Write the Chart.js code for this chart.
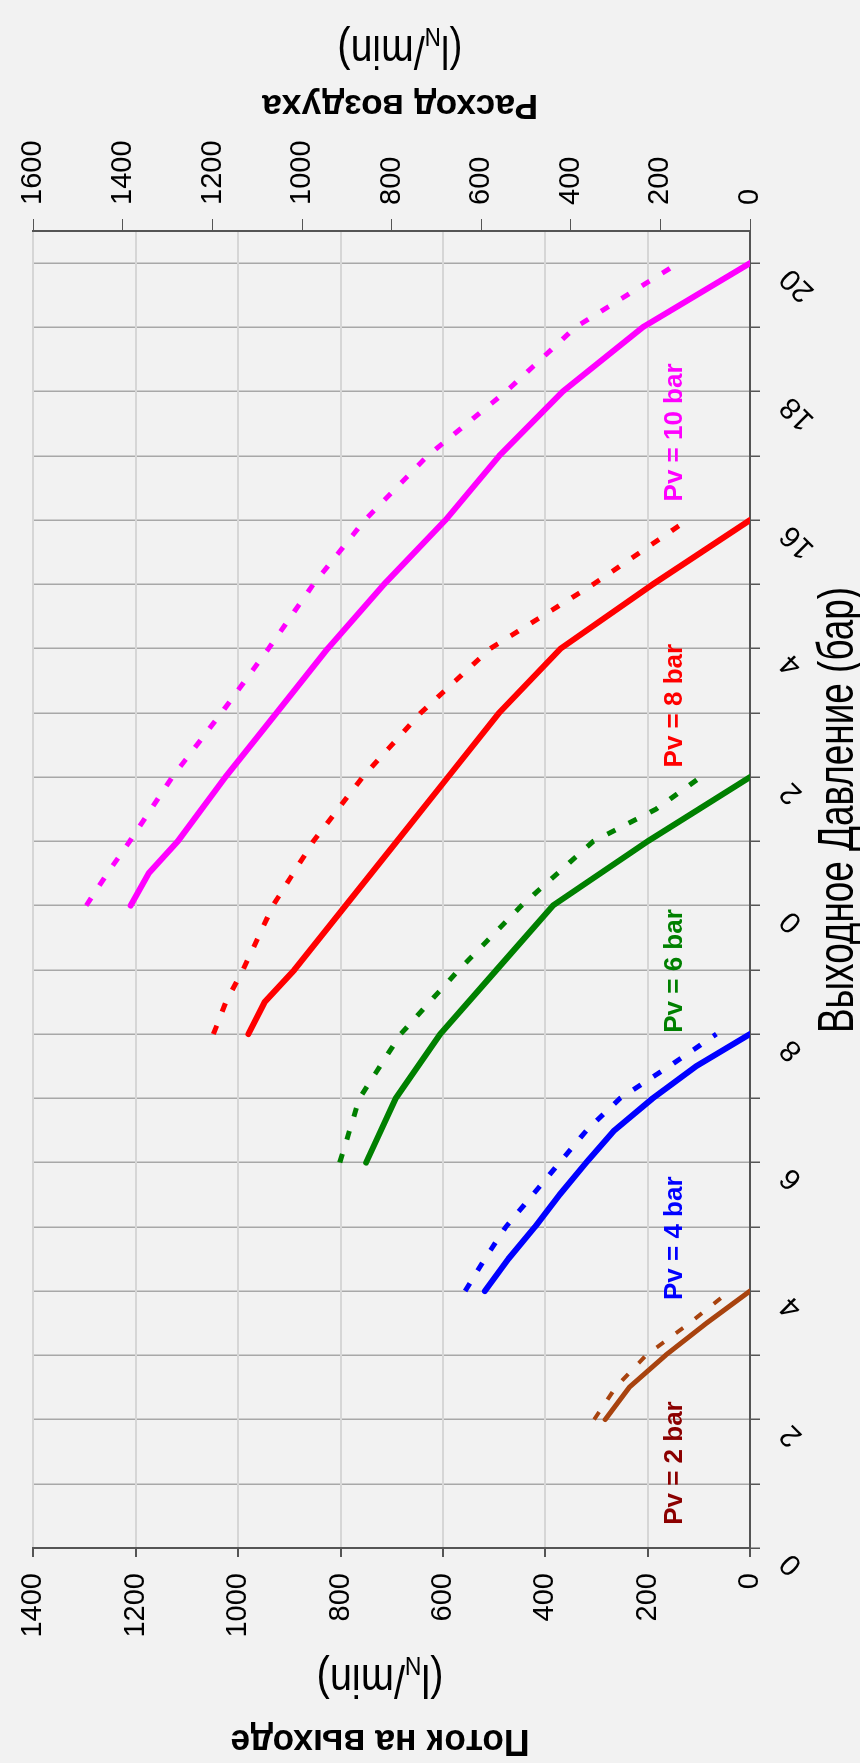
<!DOCTYPE html>
<html lang="ru">
<head>
<meta charset="UTF-8">
<title>Booster flow chart</title>
<script src="https://cdn.jsdelivr.net/npm/chart.js@4.4.1/dist/chart.umd.min.js"></script>
<style>
  html, body { margin: 0; padding: 0; background: #f2f2f2; overflow: hidden; }
  /* chart is drawn landscape, then turned a quarter turn to the left */
  #wrap { position: absolute; left: 0; top: 0; width: 1763px; height: 860px;
          transform-origin: 0 0; transform: translate(0, 1763px) rotate(-90deg); }
</style>
</head>
<body>
<div id="wrap"><canvas id="chart" width="1763" height="860"></canvas></div>
<script>
// x tick labels every 2 bar (10/12/14 show only the last digit in the original)
const xTickLabels = ['0', '2', '4', '6', '8', '0', '2', '4', '16', '18', '20'];

// outlet pressure (bar), outlet flow (left axis) and air consumption (right axis), ln/min
const pv2Bar  = [2, 2.5, 3, 3.5, 4];
const pv2Flow = [283, 236, 165, 85, 0];
const pv2Air  = [348, 300, 232, 135, 45];

const pv4Bar  = [4, 4.5, 5, 5.5, 6, 6.5, 7, 7.5, 8];
const pv4Flow = [518, 472, 420, 372, 320, 265, 190, 105, 0];
const pv4Air  = [636, 592, 545, 485, 425, 365, 290, 180, 75];

const pv6Bar  = [6, 7, 8, 9, 10, 11, 11.5, 12];
const pv6Flow = [750, 692, 605, 495, 385, 200, 100, 0];
const pv6Air  = [916, 872, 780, 650, 510, 350, 210, 110];

const pv8Bar  = [8, 8.5, 9, 10, 11, 12, 13, 14, 15, 16];
const pv8Flow = [980, 948, 890, 790, 690, 590, 490, 370, 190, 0];
const pv8Air  = [1198, 1170, 1132, 1065, 975, 865, 735, 580, 350, 140];

const pv10Bar  = [10, 10.5, 11, 12, 13, 14, 15, 16, 17, 18, 19, 20];
const pv10Flow = [1210, 1175, 1118, 1025, 925, 825, 715, 595, 490, 366, 210, 0];
const pv10Air  = [1482, 1435, 1385, 1290, 1180, 1075, 975, 860, 720, 545, 390, 160];

const seriesNames = ['Pv = 2 bar', 'Pv = 4 bar', 'Pv = 6 bar', 'Pv = 8 bar', 'Pv = 10 bar'];
// where each curve label starts (bar) and its height (ln/min, left axis)
const labelStart = [0.36, 3.86, 8.02, 12.15, 16.29];
const labelFlow = 147;

const series = [
  { bar: pv2Bar,  flow: pv2Flow,  air: pv2Air,  color: '#a8430f', text: '#8b0000', w: 5 },
  { bar: pv4Bar,  flow: pv4Flow,  air: pv4Air,  color: '#0000ff', text: '#0000ff', w: 6 },
  { bar: pv6Bar,  flow: pv6Flow,  air: pv6Air,  color: '#008000', text: '#008000', w: 6 },
  { bar: pv8Bar,  flow: pv8Flow,  air: pv8Air,  color: '#ff0000', text: '#ff0000', w: 6 },
  { bar: pv10Bar, flow: pv10Flow, air: pv10Air, color: '#ff00ff', text: '#ff00ff', w: 6 }
];

const FONT = '"Liberation Sans", Arial, sans-serif';

var datasets = [];
series.forEach(function (s) {
  datasets.push({
    data: s.bar.map(function (b, i) { return { x: b, y: s.flow[i] }; }),
    yAxisID: 'y', borderColor: s.color, borderWidth: s.w,
    pointRadius: 0, tension: 0, borderJoinStyle: 'round', borderCapStyle: 'round'
  });
  datasets.push({
    data: s.bar.map(function (b, i) { return { x: b, y: s.air[i] }; }),
    yAxisID: 'y1', borderColor: s.color, borderWidth: s.w - 1,
    borderDash: [9, 15], pointRadius: 0, tension: 0, borderCapStyle: 'butt'
  });
});

// draws text centred on (x, y) baseline, squeezed to the given width
function fitText(c, parts, x, y, angle, width) {
  var total = 0;
  parts.forEach(function (p) { c.font = p.font; p.w = c.measureText(p.t).width; total += p.w; });
  c.save();
  c.translate(x, y);
  c.rotate(angle);
  c.scale(width / total, 1);
  c.fillStyle = '#000';
  c.textAlign = 'left';
  c.textBaseline = 'alphabetic';
  var px = -total / 2;
  parts.forEach(function (p) { c.font = p.font; c.fillText(p.t, px, p.dy || 0); px += p.w; });
  c.restore();
}

function unitParts() {
  return [
    { t: '(l', font: '46px ' + FONT },
    { t: 'N', font: '26px ' + FONT, dy: 8 },
    { t: '/min)', font: '46px ' + FONT }
  ];
}

const annotations = {
  id: 'annotations',
  afterDatasetsDraw: function (chart) {
    var c = chart.ctx, xs = chart.scales.x, ys = chart.scales.y;
    c.save();
    c.font = 'bold 26px ' + FONT;
    c.textAlign = 'left';
    c.textBaseline = 'middle';
    series.forEach(function (s, i) {
      c.fillStyle = s.text;
      c.fillText(seriesNames[i], xs.getPixelForValue(labelStart[i]), ys.getPixelForValue(labelFlow));
    });
    c.restore();

    // axis titles
    fitText(c, [{ t: 'Выходное Давление (бар)', font: '50px ' + FONT }], 953, 853, 0, 446);
    fitText(c, [{ t: 'Поток на выходе', font: 'bold 37px ' + FONT }], 33, 380, -Math.PI / 2, 299);
    fitText(c, unitParts(), 98, 380, -Math.PI / 2, 127);
    fitText(c, [{ t: 'Расход воздуха', font: 'bold 35px ' + FONT }], 1668, 400, -Math.PI / 2, 276);
    fitText(c, unitParts(), 1727, 400, -Math.PI / 2, 125);
  }
};

function plain(v) { return String(v); }

var chart = new Chart(document.getElementById('chart'), {
  type: 'line',
  data: { datasets: datasets },
  options: {
    responsive: false,
    animation: false,
    events: [],
    layout: { padding: { top: 24, left: 0, right: 0, bottom: 0 } },
    plugins: { legend: { display: false }, tooltip: { enabled: false } },
    scales: {
      x: {
        type: 'linear', position: 'bottom', min: 0, max: 20.5,
        afterFit: function (s) { s.height = 110; },
        ticks: {
          stepSize: 1, autoSkip: false, includeBounds: false,
          minRotation: 45, maxRotation: 45, padding: 13, labelOffset: -10,
          color: '#000', font: { family: FONT, size: 30 },
          callback: function (v) { return v % 2 === 0 ? xTickLabels[v / 2] : ''; }
        },
        grid: { color: '#a8a8a8', lineWidth: 1.5, tickColor: '#555', tickLength: 10 },
        border: { color: '#555', width: 2 }
      },
      y: {
        position: 'left', min: 0, max: 1400,
        afterFit: function (s) { s.width = 215; },
        ticks: { stepSize: 200, padding: 16, color: '#000', font: { family: FONT, size: 29 }, callback: plain },
        grid: { color: '#d6d6d6', lineWidth: 2, tickColor: '#555', tickLength: 9 },
        border: { color: '#555', width: 2 }
      },
      y1: {
        position: 'right', min: 0, max: 1600,
        afterFit: function (s) { s.width = 231; },
        ticks: { stepSize: 200, padding: 14, color: '#000', font: { family: FONT, size: 29 }, callback: plain },
        grid: { drawOnChartArea: false, tickColor: '#555', tickLength: 12 },
        border: { color: '#555', width: 2 }
      }
    }
  },
  plugins: [annotations]
});
</script>
</body>
</html>
